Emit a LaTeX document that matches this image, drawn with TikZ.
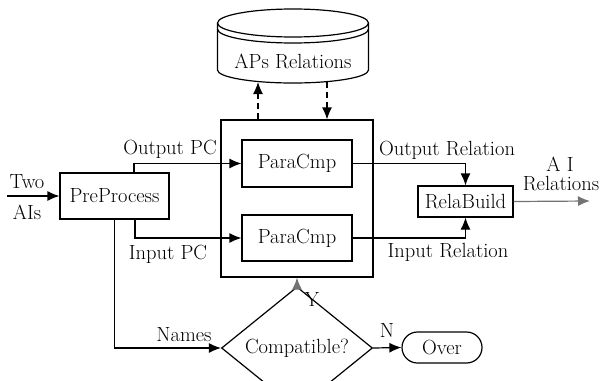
\documentclass[tikz,border=0pt]{standalone}
\usepackage{tikz}
\usetikzlibrary{shapes.geometric, arrows.meta}

\tikzset{
  txt/.style={font=\fontsize{20.5}{24}\selectfont, inner sep=0pt},
  block/.style={draw, line width=1.2pt, inner sep=0pt, font=\fontsize{20.5}{24}\selectfont},
  link/.style={line width=1.2pt, -{Latex[length=12pt,width=10pt]}},
  glink/.style={link, black!55},
  dlink/.style={link, dash pattern=on 6pt off 4pt},
}

\begin{document}
\begin{tikzpicture}[x=1pt, y=-1pt]
        \useasboundingbox (0,0) rectangle (601,380);

        % store of relations
        \draw[line width=1.2pt] (293,23) ellipse [x radius=75.5, y radius=14];
        \draw[line width=1.2pt] (217.5,29) arc [start angle=180, end angle=0, x radius=75.5, y radius=14];
        \draw[line width=1.2pt] (217.5,23) -- (217.5,70)
              arc [start angle=180, end angle=0, x radius=75.5, y radius=13] -- (368.5,23);
        \node[txt] (aps) at (293,61) {APs Relations};
        \coordinate (apsin)  at (258,82);
        \coordinate (apsout) at (327,82);

        \node[block, minimum width=152, minimum height=157] (cmpbox) at (297,198.5) {};
        \node[block, minimum width=110, minimum height=47] (paratop) at (297,163.5) {ParaCmp};
        \node[block, minimum width=110, minimum height=46] (parabot) at (297,238) {ParaCmp};
        \node[block, minimum width=109, minimum height=46] (pre) at (114.5,196) {PreProcess};
        \node[block, minimum width=95, minimum height=31] (rela) at (465.5,201.5) {RelaBuild};
        \node[block, diamond, minimum width=151, minimum height=72] (compat) at (297,348) {Compatible?};
        \node[block, minimum width=80, minimum height=31, rounded corners=15.5pt] (over) at (442,347.5) {Over};

        \coordinate (start) at (7,196);
        \coordinate (finish) at (590,201);

        \node[txt] (two)    at (27,182) {Two};
        \node[txt] (ais)    at (27,212) {AIs};
        \node[txt] (outpc)  at (170,149) {Output PC};
        \node[txt] (inpc)   at (168,254) {Input PC};
        \node[txt] (names)  at (184,335) {Names};
        \node[txt] (outrel) at (447,150) {Output Relation};
        \node[txt] (inrel)  at (448,252) {Input Relation};
        \node[txt] (ai)     at (560,164) {A I};
        \node[txt] (airel)  at (561,184) {Relations};
        \node[txt] (yes)    at (312,299) {Y};
        \node[txt] (no)     at (387,330) {N};

        \draw[link] (start) -- (pre);
        \draw[link] ([xshift=19.5pt]pre.north) |- (paratop.west);
        \draw[link] ([xshift=20.5pt]pre.south) |- (parabot.west);
        \draw[link] (pre.south) |- (compat.west);
        \draw[link] (paratop.east) -| (rela.north);
        \draw[link] (parabot.east) -| (rela.south);
        \draw[glink] (rela.east) -- (finish);
        \draw[glink] (compat.north) -- (cmpbox.south);
        \draw[link] (compat.east) -- (over.west);
        \draw[dlink] (cmpbox.north -| apsin) -- (apsin);
        \draw[dlink] (apsout) -- (cmpbox.north -| apsout);
    \end{tikzpicture}
\end{document}
